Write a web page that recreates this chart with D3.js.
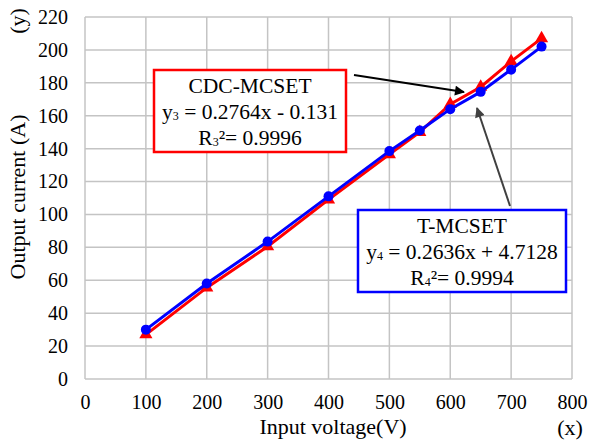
<!DOCTYPE html>
<html>
<head>
<meta charset="utf-8">
<script src="https://cdn.jsdelivr.net/npm/d3@7/dist/d3.min.js"></script>
<style>
  html, body { margin: 0; padding: 0; background: #fff; }
  svg { display: block; }
  text { font-family: "Liberation Serif", "Times New Roman", serif; fill: #000; }
</style>
</head>
<body>
<svg id="chart" width="590" height="441"></svg>
<script>
// Input voltage (V) for each measurement
const voltages = [100, 200, 300, 400, 500, 550, 600, 650, 700, 750];
// Output current (A), CDC-MCSET series (red triangles)
const cdcCurrent = [27, 55.5, 80.5, 109, 136.5, 150, 167, 177.5, 193, 207];
// Output current (A), T-MCSET series (blue circles)
const tCurrent = [30, 58, 83.5, 111, 138.5, 151, 164, 174.5, 188, 202];
const xTicks = [0, 100, 200, 300, 400, 500, 600, 700, 800];
const yTicks = [0, 20, 40, 60, 80, 100, 120, 140, 160, 180, 200, 220];

const W = 590, H = 441;
const margin = { top: 17, right: 18, bottom: 62, left: 85 };
const svg = d3.select("#chart");

const x = d3.scaleLinear().domain([0, 800]).range([margin.left, W - margin.right]);
const y = d3.scaleLinear().domain([0, 220]).range([H - margin.bottom, margin.top]);

const grid = "#c4c4c4";

// Gridlines
svg.append("g").selectAll("line").data(xTicks).join("line")
  .attr("x1", d => x(d)).attr("x2", d => x(d))
  .attr("y1", y(0)).attr("y2", y(220))
  .attr("stroke", grid).attr("stroke-width", 1.5);
svg.append("g").selectAll("line").data(yTicks).join("line")
  .attr("x1", x(0)).attr("x2", x(800))
  .attr("y1", d => y(d)).attr("y2", d => y(d))
  .attr("stroke", grid).attr("stroke-width", 1.5);

// Axes (labels only; the frame comes from the gridlines)
const xAxis = svg.append("g")
  .attr("transform", `translate(0,${y(0)})`)
  .call(d3.axisBottom(x).tickValues(xTicks).tickSize(0).tickPadding(16).tickFormat(d3.format("d")));
const yAxis = svg.append("g")
  .attr("transform", `translate(${x(0)},0)`)
  .call(d3.axisLeft(y).tickValues(yTicks).tickSize(0).tickPadding(17).tickFormat(d3.format("d")));
[xAxis, yAxis].forEach(g => {
  g.select(".domain").remove();
  g.selectAll("text").attr("font-size", 20).attr("font-family", "Liberation Serif");
});

// Axis titles
svg.append("text").attr("x", 333).attr("y", 434)
  .attr("text-anchor", "middle").attr("font-size", 22).text("Input voltage(V)");
svg.append("text").attr("x", 570).attr("y", 435)
  .attr("text-anchor", "middle").attr("font-size", 22).text("(x)");
svg.append("text").attr("transform", "translate(25,197) rotate(-90)")
  .attr("text-anchor", "middle").attr("font-size", 22).text("Output current (A)");
svg.append("text").attr("transform", "translate(25,21) rotate(-90)")
  .attr("text-anchor", "middle").attr("font-size", 22).text("(y)");

const line = d3.line().x(d => x(d[0])).y(d => y(d[1]));
const cdcPts = voltages.map((v, i) => [v, cdcCurrent[i]]);
const tPts = voltages.map((v, i) => [v, tCurrent[i]]);

// CDC-MCSET series
svg.append("path").datum(cdcPts).attr("d", line)
  .attr("fill", "none").attr("stroke", "#ff0000").attr("stroke-width", 3);
svg.append("g").selectAll("path").data(cdcPts).join("path")
  .attr("d", d3.symbol().type(d3.symbolTriangle).size(75))
  .attr("transform", d => `translate(${x(d[0])},${y(d[1])})`)
  .attr("fill", "#ff0000");

// T-MCSET series
svg.append("path").datum(tPts).attr("d", line)
  .attr("fill", "none").attr("stroke", "#0000ff").attr("stroke-width", 3);
svg.append("g").selectAll("circle").data(tPts).join("circle")
  .attr("cx", d => x(d[0])).attr("cy", d => y(d[1])).attr("r", 5)
  .attr("fill", "#0000ff");

// Annotation arrows
const defs = svg.append("defs");
function marker(id, color) {
  defs.append("marker").attr("id", id).attr("viewBox", "0 0 10 10")
    .attr("refX", 9).attr("refY", 5).attr("markerWidth", 6).attr("markerHeight", 5)
    .attr("orient", "auto").attr("markerUnits", "strokeWidth")
    .append("path").attr("d", "M0,0 L10,5 L0,10 z").attr("fill", color);
}
marker("arrBlack", "#000");
marker("arrGray", "#404040");
svg.append("line").attr("x1", 354).attr("y1", 75).attr("x2", 464).attr("y2", 92)
  .attr("stroke", "#000").attr("stroke-width", 2).attr("marker-end", "url(#arrBlack)");
svg.append("line").attr("x1", 510).attr("y1", 206).attr("x2", 477).attr("y2", 108)
  .attr("stroke", "#404040").attr("stroke-width", 2).attr("marker-end", "url(#arrGray)");

// Equation boxes
function eqBox(bx, by, bw, bh, color, title, yName, coef, intercept, sub, r2) {
  const g = svg.append("g");
  g.append("rect").attr("x", bx).attr("y", by).attr("width", bw).attr("height", bh)
    .attr("fill", "#fff").attr("stroke", color).attr("stroke-width", 2.5);
  const cx = bx + bw / 2;
  g.append("text").attr("x", cx).attr("y", by + 23).attr("text-anchor", "middle")
    .attr("font-size", 21.5).text(title);
  const t2 = g.append("text").attr("x", cx).attr("y", by + 49).attr("text-anchor", "middle")
    .attr("font-size", 21.5);
  t2.append("tspan").text(yName);
  t2.append("tspan").attr("font-size", 12).attr("dy", 1).text(sub);
  t2.append("tspan").attr("dy", -1).text(` = ${coef}x ${intercept}`);
  const t3 = g.append("text").attr("x", cx).attr("y", by + 75).attr("text-anchor", "middle")
    .attr("font-size", 21.5);
  t3.append("tspan").text("R");
  t3.append("tspan").attr("font-size", 12).attr("dy", 1).text(sub);
  t3.append("tspan").attr("dy", -1).text(`²= ${r2}`);
}
eqBox(154, 70, 192, 82, "#ff0000", "CDC-MCSET", "y", "0.2764", "- 0.131", "3", "0.9996");
eqBox(358, 210, 208, 82, "#0000ff", "T-MCSET", "y", "0.2636", "+ 4.7128", "4", "0.9994");
</script>
</body>
</html>
